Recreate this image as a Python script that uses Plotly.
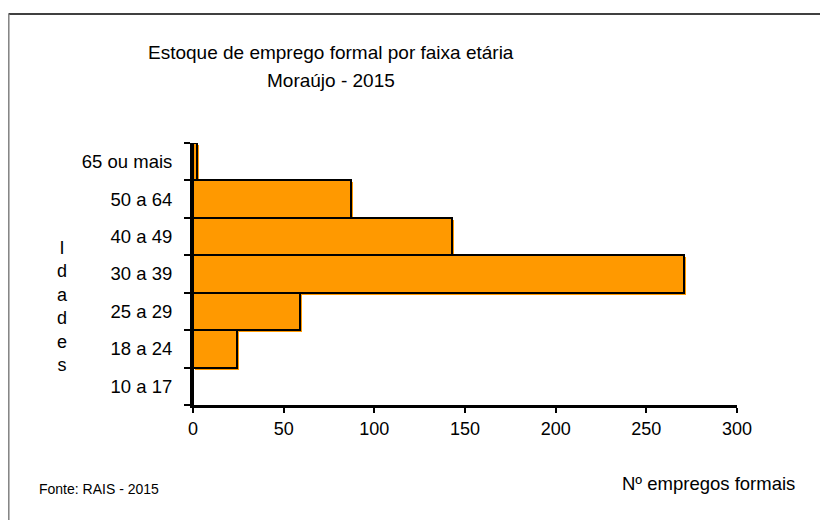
import plotly.graph_objects as go

categorias = ["10 a 17", "18 a 24", "25 a 29", "30 a 39", "40 a 49", "50 a 64", "65 ou mais"]
empregos = [0, 24, 59, 271, 143, 87, 2]
x_ticks = [0, 50, 100, 150, 200, 250, 300]

# page body has an 8px margin, so figure pixel = reference pixel - 8
OFF = 8
W, H = 820, 512
L, R, T, B = 193 - OFF, 737 - OFF, 143 - OFF, 405 - OFF

def px(x):
    return (x - OFF - L) / (R - L)

def py(y):
    return (B - (y - OFF)) / (B - T)

font = "Liberation Sans, Arial, sans-serif"

fig = go.Figure()
# slight orange shadow (offset right/down) behind the outlined bars
unit_x = 300 / (R - L)
unit_y = 7 / (B - T)
fig.add_trace(go.Bar(
    y=categorias, x=empregos, orientation="h",
    base=2 * unit_x, width=1.0, offset=-0.5 - 2 * unit_y,
    marker=dict(color="#FF9900", line=dict(width=0)),
    hoverinfo="skip",
))
fig.add_trace(go.Bar(
    y=categorias, x=empregos, orientation="h",
    marker=dict(color="#FF9900", line=dict(color="black", width=2)),
    width=1.0, offset=-0.5,
))

fig.update_layout(
    width=W, height=H,
    margin=dict(l=L, r=W - R, t=T, b=H - B),
    paper_bgcolor="white", plot_bgcolor="white",
    showlegend=False,
    barmode="overlay",
    bargap=0,
    font=dict(family=font, size=19, color="black"),
    xaxis=dict(
        range=[0, 300], tickvals=x_ticks, ticktext=[str(v) for v in x_ticks],
        showgrid=False, zeroline=False,
        showline=True, linecolor="black", linewidth=3,
        ticks="outside", ticklen=5, tickwidth=2, tickcolor="black",
        tickfont=dict(family=font, size=18),
    ),
    yaxis=dict(
        type="category", categoryorder="array", categoryarray=categorias,
        range=[-0.5, 6.5],
        tickson="boundaries",
        showgrid=False, zeroline=False,
        showline=True, linecolor="black", linewidth=3,
        ticks="outside", ticklen=6, tickwidth=2, tickcolor="black",
        tickfont=dict(family=font, size=18.5),
        ticklabelstandoff=14,
    ),
)

# Frame
fig.add_shape(type="line", xref="paper", yref="paper",
              x0=px(8.5), x1=px(840), y0=py(14), y1=py(14),
              line=dict(color="black", width=1.5))
fig.add_shape(type="line", xref="paper", yref="paper",
              x0=px(8.8), x1=px(8.8), y0=py(14), y1=py(540),
              line=dict(color="#808080", width=1.5))

# Title
fig.add_annotation(xref="paper", yref="paper", x=px(331), y=py(52),
                   text="Estoque de emprego formal por faixa etária",
                   showarrow=False, font=dict(family=font, size=19),
                   xanchor="center", yanchor="middle")
fig.add_annotation(xref="paper", yref="paper", x=px(331), y=py(80),
                   text="Moraújo - 2015",
                   showarrow=False, font=dict(family=font, size=19),
                   xanchor="center", yanchor="middle")

# Y axis title (stacked letters)
fig.add_annotation(xref="paper", yref="paper", x=px(62), y=py(306),
                   text="<br>".join("Idades"),
                   showarrow=False, font=dict(family=font, size=18),
                   xanchor="center", yanchor="middle", align="center")

# X axis title
fig.add_annotation(xref="paper", yref="paper", x=px(797), y=py(483),
                   text="Nº empregos formais",
                   showarrow=False, font=dict(family=font, size=18.5),
                   xanchor="right", yanchor="middle")

# Source
fig.add_annotation(xref="paper", yref="paper", x=px(37), y=py(489),
                   text="Fonte: RAIS - 2015",
                   showarrow=False, font=dict(family=font, size=14),
                   xanchor="left", yanchor="middle")

fig.write_html("out.html")
